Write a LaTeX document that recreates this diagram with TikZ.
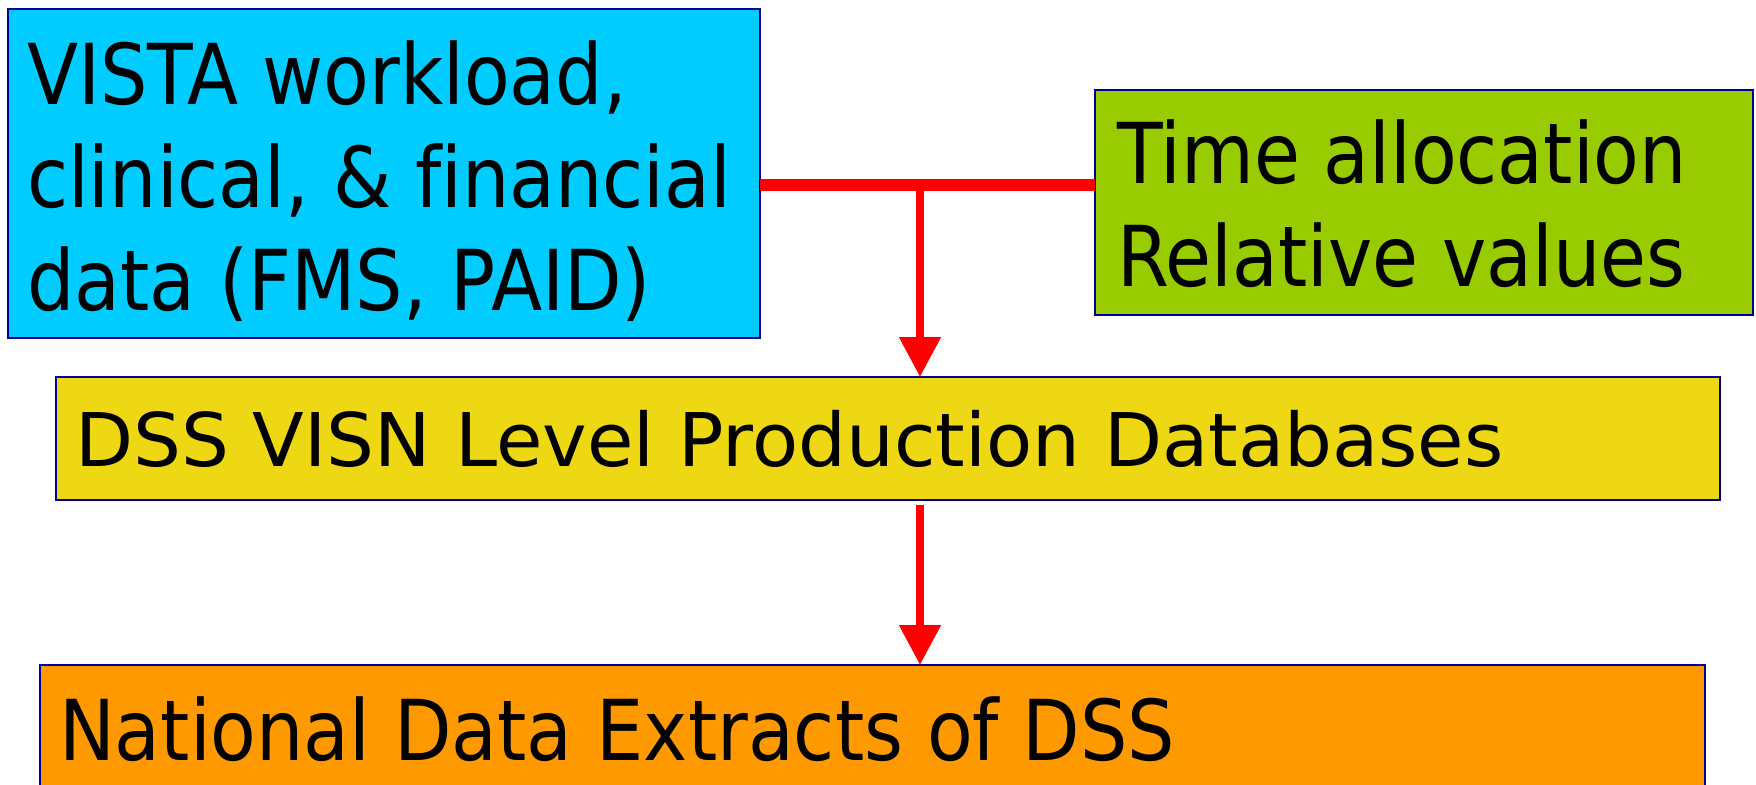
\documentclass[tikz,border=0pt]{standalone}
\usepackage{fontspec}
\setmainfont{DejaVu Sans}[FakeStretch=0.89, Ligatures=NoCommon]
\newfontfamily\widefont{DejaVu Sans}[FakeStretch=1.02, Ligatures=NoCommon]
\usetikzlibrary{arrows.meta}
\definecolor{bluebox}{RGB}{0,204,255}
\definecolor{greenbox}{RGB}{153,204,0}
\definecolor{yellowbox}{RGB}{238,216,20}
\definecolor{orangebox}{RGB}{255,153,0}
\definecolor{edge}{RGB}{0,0,153}
\definecolor{redline}{RGB}{255,0,0}
\tikzset{
  boxshape/.style={draw=edge, line width=1pt, rectangle, inner sep=0pt, outer sep=0pt, anchor=north west},
  txt/.style={inner sep=0pt, outer sep=0pt, anchor=base west, font=\fontsize{42pt}{50pt}\selectfont},
  widetxt/.style={inner sep=0pt, outer sep=0pt, anchor=base west, font=\widefont\fontsize{37pt}{45pt}\selectfont},
  thickred/.style={draw=redline, line width=6pt},
  arrowred/.style={draw=redline, line width=4pt, -{Triangle[width=20pt,length=20pt]}},
}
\begin{document}
\begin{tikzpicture}[x=0.5pt,y=-0.5pt]
\useasboundingbox (0,0) rectangle (1756,784);
\node[boxshape, fill=bluebox, minimum width=376pt, minimum height=164.5pt] (blue) at (8,9) {};
\node[boxshape, fill=greenbox, minimum width=329pt, minimum height=112.5pt] (green) at (1095,90) {};
\node[boxshape, fill=yellowbox, minimum width=832pt, minimum height=61.5pt] (yellow) at (56,377) {};
\node[boxshape, fill=orangebox, minimum width=832.5pt, minimum height=70pt] (orange) at (40,665) {};
\node[txt] (b1) at (27,104) {VISTA workload,};
\node[txt] (b2) at (27,207) {clinical, \& financial};
\node[txt] (b3) at (27,310) {data (FMS, PAID)};
\node[txt] (g1) at (1117,183) {Time allocation};
\node[txt] (g2) at (1117,286) {Relative values};
\node[widetxt] (y1) at (75,466) {DSS VISN Level Production Databases};
\node[txt] (o1) at (59,760) {National Data Extracts of DSS};
\coordinate (j) at (920,185);
\draw[thickred] (j -| blue.east) -- (j -| green.west);
\draw[arrowred] (j) -- (j |- yellow.north);
\draw[arrowred, shorten <=2.5pt] (j |- yellow.south) -- (j |- orange.north);
\end{tikzpicture}
\end{document}
